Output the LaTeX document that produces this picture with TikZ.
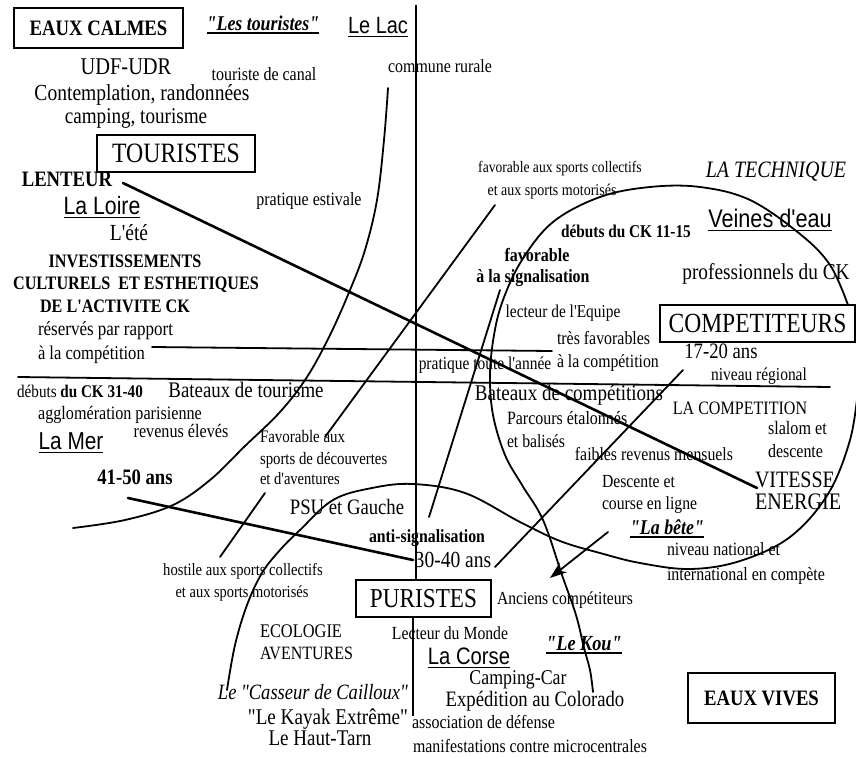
\documentclass[tikz,border=0pt]{standalone}
\usepackage{fontspec}
\newfontfamily\srf{Liberation Serif}[FakeStretch=0.85]
\newfontfamily\ars{Liberation Sans}[FakeStretch=0.85]
\usetikzlibrary{arrows.meta}
\newcommand\ul[1]{\setbox0=\hbox{#1}\rlap{\rule[-0.16em]{\wd0}{1.3pt}}\box0}
\newcommand\FS[1]{\fontsize{#1}{#1}\srf}
\tikzset{
  lbl/.style={inner sep=0pt, outer sep=0pt, anchor=mid, font=\FS{#1}},
  boxed/.style={draw, line width=1.5pt, inner sep=0pt, font=\FS{#1}},
  ln/.style={line width=1.8pt, line cap=round, line join=round},
  lnheavy/.style={line width=2.6pt, line cap=round},
  axisline/.style={line width=1.4pt},
}
\begin{document}
\begin{tikzpicture}[x=1pt,y=-1pt]
\fill[white] (0,0) rectangle (856,758);
\useasboundingbox (0,0) rectangle (856,758);

% ---------- boxes ----------
\node[boxed=22, minimum width=169pt, minimum height=40pt] (eauxcalmes) at (98.5,28) {\bfseries EAUX CALMES};
\node[boxed=28, minimum width=158pt, minimum height=37pt] (touristes) at (176,153.5) {TOURISTES};
\node[boxed=27.7, minimum width=195pt, minimum height=37pt] (compet) at (757.5,323.5) {COMPETITEURS};
\node[boxed=27.3, minimum width=135pt, minimum height=37pt] (puristes) at (423.5,598.5) {PURISTES};
\node[boxed=22, minimum width=147pt, minimum height=50pt] (eauxvives) at (761.5,698) {\bfseries EAUX VIVES};

% ---------- top left ----------
\node[lbl=21] (lestour) at (263,28) {\bfseries\itshape\ul{"Les touristes"}};
\node[lbl=23.5] (lelac) at (378,31) {\ars\ul{Le Lac}};
\node[lbl=24] (udf) at (126,72) {UDF-UDR};
\node[lbl=23] (contemp) at (142,98) {Contemplation, randonnées};
\node[lbl=22.5] (camping) at (136,121) {camping, tourisme};
\node[lbl=18.8] (canal) at (264,78) {touriste de canal};
\node[lbl=18.7] (commune) at (440,70) {commune rurale};
\node[lbl=22] (lenteur) at (67,184) {\bfseries LENTEUR};
\node[lbl=25] (loire) at (102,212) {\ars\ul{La Loire}};
\node[lbl=23] (ete) at (129,238) {L'été};
\node[lbl=19] (invest) at (125,265) {\bfseries INVESTISSEMENTS};
\node[lbl=19] (cultur) at (136,287) {\bfseries CULTURELS\ \ ET ESTHETIQUES};
\node[lbl=19] (deact) at (115,310) {\bfseries DE L'ACTIVITE CK};
\node[lbl=20, anchor=mid west] (reserv) at (38,333) {réservés par rapport};
\node[lbl=19.5, anchor=mid west] (alacompA) at (38,357) {à la compétition};
\node[lbl=18.8] (estivale) at (309,203) {pratique estivale};

% ---------- top right ----------
\node[lbl=16] (favcoll) at (560,170) {favorable aux sports collectifs};
\node[lbl=16.5] (motorA) at (552,193) {et aux sports motorisés};
\node[lbl=23.5] (technique) at (776,175) {\itshape LA TECHNIQUE};
\node[lbl=25.5] (veines) at (770,225) {\ars\ul{Veines d'eau}};
\node[lbl=18] (debutsA) at (626,235) {\bfseries débuts du CK 11-15};
\node[lbl=18.8] (favorable) at (537,259) {\bfseries favorable};
\node[lbl=18.7] (signal) at (533,280) {\bfseries à la signalisation};
\node[lbl=22.7] (prof) at (766,277) {professionnels du CK};
\node[lbl=18.1] (equipe) at (563,315) {lecteur de l'Equipe};
\node[lbl=18.7, anchor=mid west] (tresfav) at (557,342) {très favorables};
\node[lbl=18.6, anchor=mid west] (alacompB) at (557,365) {à la compétition};
\node[lbl=22] (ageA) at (721,356) {17-20 ans};
\node[lbl=18.2] (regional) at (759,378) {niveau régional};
\node[lbl=18.2] (annee) at (485,367) {pratique toute l'année};

% ---------- middle left ----------
\node[lbl=17.8] (debutsB) at (80,395) {débuts \bfseries du CK 31-40};
\node[lbl=22.2] (battour) at (246,395) {Bateaux de tourisme};
\node[lbl=19] (agglo) at (120,417) {agglomération parisienne};
\node[lbl=19] (revenus) at (181,435) {revenus élevés};
\node[lbl=24.5] (lamer) at (71,447) {\ars\ul{La Mer}};
\node[lbl=22] (ageB) at (135,482) {\bfseries 41-50 ans};
\node[lbl=17.6, anchor=mid west] (favaux) at (260,440) {Favorable aux};
\node[lbl=17.4, anchor=mid west] (sportsdec) at (260,462) {sports de découvertes};
\node[lbl=17.1, anchor=mid west] (etdav) at (260,482) {et d'aventures};
\node[lbl=22] (psu) at (347,512) {PSU et Gauche};

% ---------- middle right ----------
\node[lbl=22.4] (batcomp) at (569,398) {Bateaux de compétitions};
\node[lbl=18.9] (lacompet) at (740,412) {LA COMPETITION};
\node[lbl=18.8, anchor=mid west] (parcours) at (507,422) {Parcours étalonnés};
\node[lbl=18.5, anchor=mid west] (balises) at (507,445) {et balisés};
\node[lbl=19, anchor=mid west] (slalom) at (768,432) {slalom et};
\node[lbl=18.8, anchor=mid west] (descenteA) at (768,455) {descente};
\node[lbl=18.6] (faibles) at (654,458) {faibles revenus mensuels};
\node[lbl=18.5, anchor=mid west] (descet) at (602,485) {Descente et};
\node[lbl=18.5, anchor=mid west] (course) at (602,507) {course en ligne};
\node[lbl=23.5, anchor=mid west] (vitesse) at (755,485) {VITESSE};
\node[lbl=23.7, anchor=mid west] (energie) at (755,507) {ENERGIE};
\node[lbl=21] (labete) at (667,532) {\bfseries\itshape\ul{"La bête"}};
\node[lbl=18.7, anchor=mid west] (nivnat) at (667,553) {niveau national et};
\node[lbl=18.8, anchor=mid west] (internat) at (667,578) {international en compète};

% ---------- bottom ----------
\node[lbl=18.6] (antisig) at (427,540) {\bfseries anti-signalisation};
\node[lbl=23] (ageC) at (453,565) {30-40 ans};
\node[lbl=18.4] (anciens) at (565,602) {Anciens compétiteurs};
\node[lbl=17.2] (hostile) at (243,573) {hostile aux sports collectifs};
\node[lbl=17] (motorB) at (242,595) {et aux sports motorisés};
\node[lbl=19.3, anchor=mid west] (ecologie) at (260,635) {ECOLOGIE};
\node[lbl=18.8, anchor=mid west] (aventures) at (260,657) {AVENTURES};
\node[lbl=18.5] (monde) at (450,637) {Lecteur du Monde};
\node[lbl=23.8] (corse) at (469,662) {\ars\ul{La Corse}};
\node[lbl=21.5] (lekou) at (584,648) {\bfseries\itshape\ul{"Le Kou"}};
\node[lbl=21] (campcar) at (518,682) {Camping-Car};
\node[lbl=22] (expe) at (535,704) {Expédition au Colorado};
\node[lbl=21.8, anchor=mid east] (casseur) at (408,697) {\itshape Le "Casseur de Cailloux"};
\node[lbl=22.5, anchor=mid east] (kayak) at (408,722) {"Le Kayak Extrême"};
\node[lbl=22.4] (hauttarn) at (320,743) {Le Haut-Tarn};
\node[lbl=18.8, anchor=mid west] (assoc) at (412,726) {association de défense};
\node[lbl=18.7, anchor=mid west] (manif) at (413,750) {manifestations contre microcentrales};

% ---------- coordinates ----------
\coordinate (vtop) at (416,5);
\coordinate (vbot) at (413,716);
\coordinate (h1a) at (152,347);
\coordinate (h1b) at (552,351);
\coordinate (h2a) at (18,377);
\coordinate (h2b) at (830,387);
\coordinate (d1a) at (123,183);
\coordinate (d1b) at (757,488);
\coordinate (d2a) at (128,498);
\coordinate (d2b) at (413,560);
\coordinate (d3a) at (495,567);
\coordinate (d3b) at (683,370);
\coordinate (l2a) at (495,205);
\coordinate (l2b) at (325,437);
\coordinate (l3a) at (500,290);
\coordinate (l3b) at (429,517);
\coordinate (l4a) at (265,493);
\coordinate (l4b) at (220,557);
\coordinate (ara) at (608,532);
\coordinate (arb) at (550,578);

% ---------- axes ----------
\draw[axisline] (vtop) -- (vtop |- puristes.north);
\draw[axisline] (vbot |- puristes.south) -- (vbot);
\draw[ln] (h1a) -- (h1b);
\draw[ln] (h2a) -- (h2b);

% ---------- straight connectors ----------
\draw[lnheavy] (d1a) -- (d1b);
\draw[lnheavy] (d2a) -- (d2b);
\draw[ln] (d3a) -- (d3b);
\draw[ln] (l2a) -- (l2b);
\draw[ln] (l3a) -- (l3b);
\draw[ln] (l4a) -- (l4b);
\draw[ln, -{Stealth[length=17pt,width=12pt]}] (ara) -- (arb);

% ---------- curves ----------
\draw[ln] plot[smooth, tension=0.6] coordinates {(388,88) (384,140) (377,200) (365,250) (350,290) (330,335) (307,377) (280,412) (245,446) (210,480) (173,505) (125,520) (73,528)};
\draw[ln] plot[smooth, tension=0.6] coordinates {(593,692) (590,670) (584,648) (576,615) (562,575) (543,520) (522,485) (505,455) (493,415) (490,375) (494,335) (503,300) (522,260) (553,222) (600,197) (650,187) (700,187) (750,200) (800,234) (830,265) (848,305)};
\draw[ln] plot[smooth, tension=0.6] coordinates {(227,690) (235,645) (247,605) (262,573) (280,550) (300,530) (333,500) (372,488) (413,484) (465,493) (520,522) (560,541) (600,553) (640,563) (690,569) (740,561) (790,537) (828,494) (850,440) (858,390)};
\end{tikzpicture}
\end{document}
